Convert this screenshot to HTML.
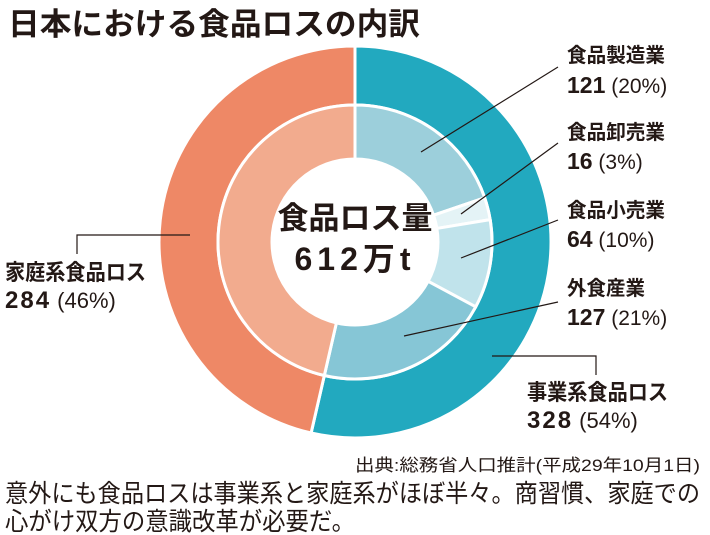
<!DOCTYPE html>
<html><head><meta charset="utf-8"><style>
html,body{margin:0;padding:0;background:#fff}
svg{display:block}
text{font-family:"Liberation Sans","Noto Sans CJK JP",sans-serif;fill:#231815}
.b{font-weight:bold}
</style></head><body>
<svg id="chart" width="710" height="535" viewBox="0 0 710 535">
<text x="8" y="35" class="b" font-size="31" textLength="412" lengthAdjust="spacingAndGlyphs">日本における食品ロスの内訳</text>
<g id="rings"></g>
<g id="leaders" stroke="#231815" stroke-width="1.2" fill="none">
<line x1="421" y1="152" x2="558" y2="67"/>
<line x1="461" y1="214" x2="558" y2="143"/>
<line x1="461" y1="258" x2="558" y2="220"/>
<line x1="404" y1="336" x2="558" y2="302"/>
<polyline points="190,235 77,235 77,254"/>
<polyline points="492,356 596,356 596,375"/>
</g>
<text x="355" y="229" text-anchor="middle" class="b" font-size="31">食品ロス量</text>
<text x="355" y="270" text-anchor="middle" class="b" font-size="32" letter-spacing="5">612万t</text>

<g>
<text x="567" y="62" class="b" font-size="20" textLength="98" lengthAdjust="spacingAndGlyphs">食品製造業</text>
<text x="567" y="93" font-size="21"><tspan class="b" font-size="23">121</tspan> (20%)</text></g>
<g>
<text x="567" y="139" class="b" font-size="20" textLength="98" lengthAdjust="spacingAndGlyphs">食品卸売業</text>
<text x="567" y="169" font-size="21"><tspan class="b" font-size="23">16</tspan> (3%)</text></g>
<g>
<text x="567" y="217" class="b" font-size="20" textLength="98" lengthAdjust="spacingAndGlyphs">食品小売業</text>
<text x="567" y="247" font-size="21"><tspan class="b" font-size="23">64</tspan> (10%)</text></g>
<g>
<text x="567" y="295" class="b" font-size="20" textLength="78" lengthAdjust="spacingAndGlyphs">外食産業</text>
<text x="567" y="325" font-size="21"><tspan class="b" font-size="23">127</tspan> (21%)</text></g>
<g>
<text x="5" y="280" class="b" font-size="22" textLength="141" lengthAdjust="spacingAndGlyphs">家庭系食品ロス</text>
<text x="5" y="308" font-size="22"><tspan class="b" font-size="24" letter-spacing="2">284</tspan> (46%)</text></g>
<g>
<text x="527" y="400" class="b" font-size="22" textLength="141" lengthAdjust="spacingAndGlyphs">事業系食品ロス</text>
<text x="527" y="428" font-size="22"><tspan class="b" font-size="24" letter-spacing="2">328</tspan> (54%)</text></g>

<text x="700" y="471" text-anchor="end" font-size="17" textLength="345" lengthAdjust="spacingAndGlyphs">出典:総務省人口推計(平成29年10月1日)</text>
<text x="5" y="502" font-size="25" textLength="695" lengthAdjust="spacingAndGlyphs">意外にも食品ロスは事業系と家庭系がほぼ半々。商習慣、家庭での</text>
<text x="5" y="530" font-size="25" textLength="350" lengthAdjust="spacingAndGlyphs">心がけ双方の意識改革が必要だ。</text>
</svg>
<script>
const outerNames=['business','household'];
const outerValues=[328,284];
const outerColors=['#22a9bf','#ee8866'];
const innerNames=['manufacturing','wholesale','retail','restaurant','household'];
const innerValues=[121,16,64,127,284];
const innerColors=['#9ccfdb','#e4f3f6','#c0e3eb','#86c6d6','#f2ab8e'];
const cx=355,cy=242;
const NS='http://www.w3.org/2000/svg';
const g=document.getElementById('rings');
function pt(r,a){return [cx+r*Math.sin(a),cy-r*Math.cos(a)];}
function arc(r0,r1,a0,a1){
  const big=(a1-a0)>Math.PI?1:0;
  const p0=pt(r1,a0),p1=pt(r1,a1),p2=pt(r0,a1),p3=pt(r0,a0);
  return `M${p0}A${r1},${r1} 0 ${big} 1 ${p1}L${p2}A${r0},${r0} 0 ${big} 0 ${p3}Z`;
}
function ring(vals,cols,names,r0,r1,prefix){
  const tot=vals.reduce((a,b)=>a+b,0);let a=0;
  vals.forEach((v,i)=>{
    const a1=a+v/tot*2*Math.PI;
    const p=document.createElementNS(NS,'path');
    p.setAttribute('d',arc(r0,r1,a,a1));
    p.setAttribute('fill',cols[i]);
    p.setAttribute('stroke','#fff');
    p.setAttribute('stroke-width','3');
    
    
    g.appendChild(p);a=a1;
  });
}
ring(outerValues,outerColors,outerNames,137,196,'outer-slice');
ring(innerValues,innerColors,innerNames,83,137,'inner-slice');
</script>
</body></html>
